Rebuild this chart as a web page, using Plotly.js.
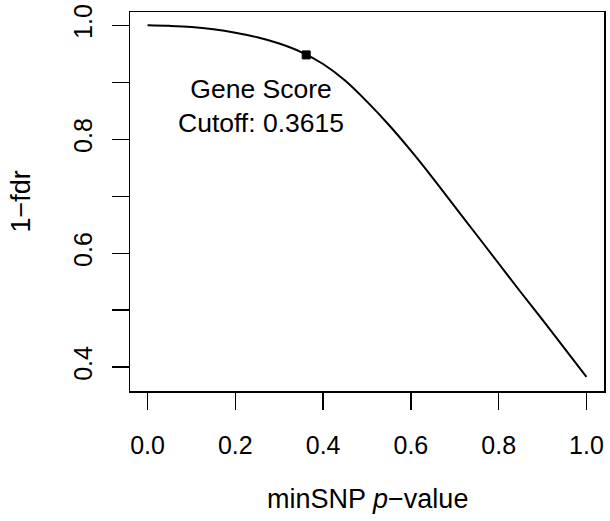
<!DOCTYPE html>
<html>
<head>
<meta charset="utf-8">
<script src="https://cdn.plot.ly/plotly-3.0.1.min.js"></script>
<style>html,body{margin:0;padding:0;background:#fff;}#chart{width:610px;height:521px;}</style>
</head>
<body>
<div id="chart"></div>
<script>
// Data
const pValues = [0.00, 0.05, 0.10, 0.15, 0.20, 0.25, 0.30, 0.35, 0.40, 0.45, 0.50, 0.55, 0.60, 0.65, 0.70, 0.75, 0.80, 0.85, 0.90, 0.95, 1.00];
const oneMinusFdr = [1.000, 0.999, 0.997, 0.993, 0.987, 0.979, 0.968, 0.953, 0.932, 0.903, 0.866, 0.825, 0.780, 0.732, 0.682, 0.632, 0.582, 0.532, 0.483, 0.433, 0.383];
const cutoffX = [0.3615];
const cutoffY = [0.948];
const xTickVals = [0.0, 0.2, 0.4, 0.6, 0.8, 1.0];
const xTickText = ["0.0", "0.2", "0.4", "0.6", "0.8", "1.0"];
const yTickVals = [0.4, 0.5, 0.6, 0.7, 0.8, 0.9, 1.0];
const yTickText = ["0.4", "", "0.6", "", "0.8", "", "1.0"];
const labelPos = [0.258, 0.858];

const font = "Liberation Sans, Arial, Helvetica, sans-serif";

const traces = [
  {
    x: pValues, y: oneMinusFdr, type: "scatter", mode: "lines",
    line: {color: "#000", width: 2, shape: "spline", smoothing: 1},
    hoverinfo: "skip", showlegend: false
  },
  {
    x: cutoffX, y: cutoffY, type: "scatter", mode: "markers",
    marker: {symbol: "square", size: 8, color: "#000", line: {color: "#000", width: 1}},
    showlegend: false
  }
];

const layout = {
  width: 610, height: 521,
  margin: {l: 130, r: 6, t: 12, b: 130},
  paper_bgcolor: "#fff", plot_bgcolor: "#fff",
  font: {family: font, size: 25, color: "#000"},
  showlegend: false,
  xaxis: {
    range: [-0.04, 1.04], tickmode: "array", tickvals: xTickVals, ticktext: xTickText,
    ticks: "outside", ticklen: 17, tickwidth: 1.5, tickcolor: "#000",
    showline: true, mirror: true, linecolor: "#000", linewidth: 1.5,
    showgrid: false, zeroline: false, ticklabelstandoff: 14,
    tickfont: {family: font, size: 25, color: "#000"}
  },
  yaxis: {
    range: [0.3583, 1.0233], tickmode: "array", tickvals: yTickVals, ticktext: yTickText,
    ticks: "outside", ticklen: 17, tickwidth: 1.5, tickcolor: "#000",
    showline: true, mirror: true, linecolor: "#000", linewidth: 1.5,
    showgrid: false, zeroline: false, tickangle: -90, ticklabelstandoff: 10,
    tickfont: {family: font, size: 25, color: "#000"}
  },
  annotations: [
    {
      x: labelPos[0], y: labelPos[1], xref: "x", yref: "y",
      text: "Gene Score<br>Cutoff: " + cutoffX[0].toFixed(4),
      showarrow: false, font: {family: font, size: 26.5, color: "#000"},
      xanchor: "center", yanchor: "middle", align: "center"
    },
    {
      x: 0.5, y: -0.285, xref: "paper", yref: "paper",
      text: "minSNP <i>p</i>\u2212value", showarrow: false,
      font: {family: font, size: 27, color: "#000"}, xanchor: "center", yanchor: "middle"
    },
    {
      x: -0.23, y: 0.5, xref: "paper", yref: "paper",
      text: "1\u2212fdr", showarrow: false, textangle: -90,
      font: {family: font, size: 27, color: "#000"}, xanchor: "center", yanchor: "middle"
    }
  ]
};

Plotly.newPlot("chart", traces, layout, {staticPlot: true, displayModeBar: false});
</script>
</body>
</html>
